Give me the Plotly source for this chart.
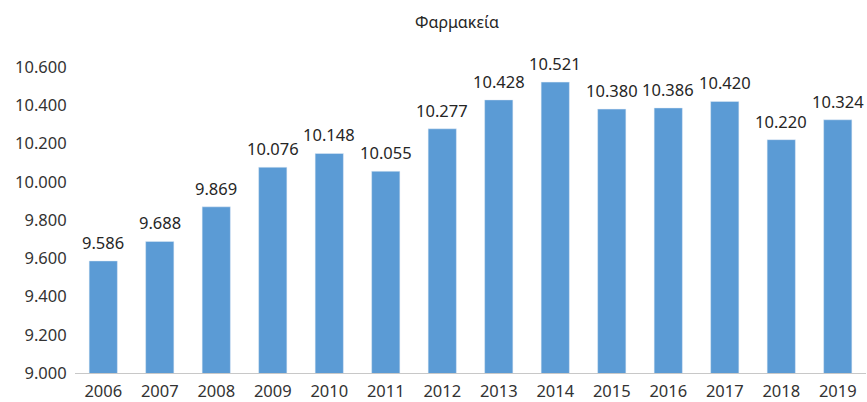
import plotly.graph_objects as go

years = ["2006", "2007", "2008", "2009", "2010", "2011", "2012", "2013", "2014", "2015", "2016", "2017", "2018", "2019"]
pharmacies = [9586, 9688, 9869, 10076, 10148, 10055, 10277, 10428, 10521, 10380, 10386, 10420, 10220, 10324]
y_ticks = [9000, 9200, 9400, 9600, 9800, 10000, 10200, 10400, 10600]
title_text = "Φαρμακεία"

FONT = "Noto Sans, Lato, sans-serif"
FS = 16.5


def fmt(v):
    return f"{v:,d}".replace(",", ".")


fig = go.Figure(go.Bar(
    x=years,
    y=pharmacies,
    marker=dict(color="#5B9BD5"),
    width=0.5,
))

for i, v in enumerate(pharmacies):
    fig.add_annotation(
        x=i, y=v, text=fmt(v), showarrow=False,
        xanchor="center", yanchor="bottom", yshift=5,
        font=dict(size=FS, color="#262626", family=FONT),
    )

fig.update_layout(
    width=867, height=402,
    margin=dict(l=75, r=1, t=67, b=29),
    paper_bgcolor="white",
    plot_bgcolor="white",
    separators=",.",
    showlegend=False,
    title=dict(text=title_text, x=0.527, xanchor="center", y=0.945, yanchor="middle",
               font=dict(size=16, color="#262626", family=FONT)),
    font=dict(family=FONT, color="#333333"),
)
fig.update_xaxes(
    type="category",
    showline=True, linecolor="#C8C8C8", linewidth=1,
    showgrid=False,
    ticks="outside", ticklen=3, tickcolor="rgba(0,0,0,0)",
    tickfont=dict(size=FS, color="#333333", family=FONT),
)
fig.update_yaxes(
    range=[9000, 10600],
    tickvals=y_ticks,
    tickformat=",d",
    showgrid=False, zeroline=False, showline=False,
    ticks="outside", ticklen=4, tickcolor="rgba(0,0,0,0)",
    tickfont=dict(size=FS, color="#333333", family=FONT),
)

fig.write_html(
    "out.html",
    config={"displayModeBar": False},
    post_script="document.body.style.margin='0';document.body.style.overflow='hidden';",
)
